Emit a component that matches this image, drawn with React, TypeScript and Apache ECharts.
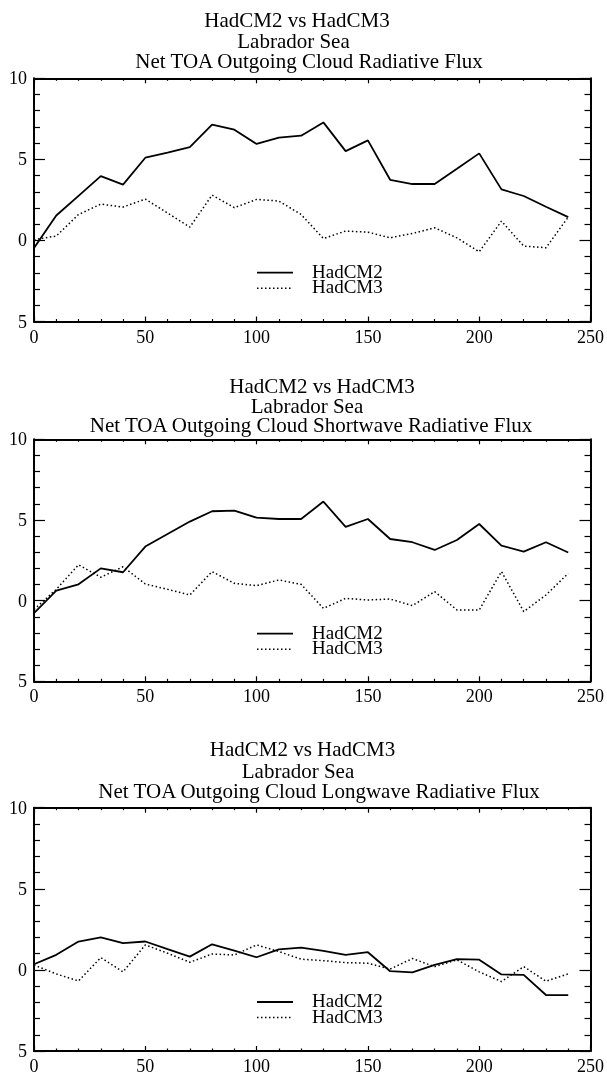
import React, { useEffect, useRef } from "react";
import * as echarts from "echarts";

// Model years (x axis)
const years = [0, 10, 20, 30, 40, 50, 60, 70, 80, 90, 100, 110, 120, 130, 140, 150, 160, 170, 180, 190, 200, 210, 220, 230, 240];

// Net TOA outgoing cloud radiative flux
const totalHadCM2 = [-0.46, 1.54, 2.75, 3.97, 3.44, 5.1, 5.41, 5.76, 7.14, 6.83, 5.95, 6.34, 6.46, 7.28, 5.51, 6.17, 3.74, 3.48, 3.48, 4.42, 5.37, 3.15, 2.74, 2.08, 1.44];
const totalHadCM3 = [0.05, 0.27, 1.6, 2.24, 2.06, 2.55, 1.69, 0.82, 2.8, 2.02, 2.53, 2.43, 1.6, 0.12, 0.58, 0.51, 0.16, 0.43, 0.78, 0.16, -0.7, 1.19, -0.35, -0.45, 1.44];

// Shortwave component
const swHadCM2 = [-0.78, 0.62, 1.01, 2.0, 1.76, 3.35, 4.13, 4.9, 5.54, 5.58, 5.14, 5.06, 5.06, 6.14, 4.57, 5.06, 3.82, 3.62, 3.14, 3.76, 4.75, 3.41, 3.04, 3.62, 2.98];
const swHadCM3 = [-0.55, 0.7, 2.22, 1.45, 2.1, 1.03, 0.7, 0.35, 1.8, 1.07, 0.93, 1.28, 1.01, -0.48, 0.14, 0.04, 0.1, -0.31, 0.56, -0.58, -0.58, 1.8, -0.68, 0.35, 1.69];

// Longwave component
const lwHadCM2 = [0.35, 0.93, 1.75, 2.0, 1.65, 1.75, 1.28, 0.82, 1.58, 1.19, 0.78, 1.27, 1.37, 1.17, 0.92, 1.09, -0.08, -0.15, 0.31, 0.66, 0.63, -0.28, -0.31, -1.55, -1.55];
const lwHadCM3 = [0.3, -0.25, -0.68, 0.76, -0.12, 1.54, 1.03, 0.47, 0.98, 0.92, 1.54, 1.13, 0.66, 0.57, 0.45, 0.41, 0.05, 0.7, 0.2, 0.62, -0.12, -0.72, 0.2, -0.7, -0.25];

const seriesNames = ["HadCM2", "HadCM3"];

const titleLines = [
  ["HadCM2 vs HadCM3", "Labrador Sea", "Net TOA Outgoing Cloud Radiative Flux"],
  ["HadCM2 vs HadCM3", "Labrador Sea", "Net TOA Outgoing Cloud Shortwave Radiative Flux"],
  ["HadCM2 vs HadCM3", "Labrador Sea", "Net TOA Outgoing Cloud Longwave Radiative Flux"],
];

const panels = [
  { a: totalHadCM2, b: totalHadCM3 },
  { a: swHadCM2, b: swHadCM3 },
  { a: lwHadCM2, b: lwHadCM3 },
];

const FONT = "Liberation Serif";

// layout of the three stacked plots
const gridTops = [78.3, 439.3, 807.7];
const gridHeights = [243.2, 242, 243.3];
const GRID_LEFT = 34;
const GRID_WIDTH = 556.6;

// title line centres [x, y] for each panel
const titlePos = [
  [[297, 19.7], [293.5, 40.7], [309, 61.3]],
  [[322, 386], [307, 406], [311, 425]],
  [[302.5, 749], [298, 771], [319, 791]],
];

const SOLID = { stroke: "#000", lineWidth: 1.8 };
const DOTTED = { stroke: "#000", lineWidth: 1.5, lineDash: [1.5, 2.5] };

function buildOption() {
  const grid: any[] = [];
  const xAxis: any[] = [];
  const yAxis: any[] = [];
  const series: any[] = [];
  const graphic: any[] = [];

  panels.forEach((p, i) => {
    grid.push({ left: GRID_LEFT, width: GRID_WIDTH, top: gridTops[i], height: gridHeights[i] });

    const axisLine = { show: true, onZero: false, lineStyle: { color: "#000", width: 2 } };
    const xCommon = {
      type: "value",
      gridIndex: i,
      min: 0,
      max: 250,
      interval: 50,
      axisLine,
      splitLine: { show: false },
      axisTick: { show: true, inside: true, length: 5, lineStyle: { color: "#000", width: 1.2 } },
      minorTick: { show: true, splitNumber: 5, length: 2.5, lineStyle: { color: "#000", width: 1.2 } },
    };
    xAxis.push({
      ...xCommon,
      position: "bottom",
      axisLabel: { show: true, color: "#000", fontFamily: FONT, fontSize: 18, margin: 6 },
    });
    xAxis.push({ ...xCommon, position: "top", axisLabel: { show: false } });

    const yCommon = {
      type: "value",
      gridIndex: i,
      min: -5,
      max: 10,
      interval: 5,
      axisLine,
      splitLine: { show: false },
      axisTick: { show: true, inside: true, length: 11, lineStyle: { color: "#000", width: 1.2 } },
      minorTick: { show: true, splitNumber: 5, length: 6, lineStyle: { color: "#000", width: 1.2 } },
    };
    yAxis.push({
      ...yCommon,
      position: "left",
      axisLabel: {
        show: true,
        color: "#000",
        fontFamily: FONT,
        fontSize: 18,
        margin: 7,
        formatter: (v: number) => String(Math.abs(v)),
      },
    });
    yAxis.push({ ...yCommon, position: "right", axisLabel: { show: false } });

    series.push({
      name: seriesNames[0],
      type: "line",
      xAxisIndex: i * 2,
      yAxisIndex: i * 2,
      data: years.map((x, k) => [x, p.a[k]]),
      symbol: "none",
      lineStyle: { color: "#000", width: 1.8, type: "solid" },
    });
    series.push({
      name: seriesNames[1],
      type: "line",
      xAxisIndex: i * 2,
      yAxisIndex: i * 2,
      data: years.map((x, k) => [x, p.b[k]]),
      symbol: "none",
      lineStyle: { color: "#000", width: 1.5, type: [1.5, 2.5] },
    });

    // key: line sample plus series name, two rows
    const keyTop = gridTops[i] + 194.3;
    seriesNames.forEach((name, j) => {
      const y = keyTop + j * 15.6;
      graphic.push({
        type: "line",
        shape: { x1: 257, y1: y, x2: 293, y2: y },
        style: j === 0 ? SOLID : DOTTED,
      });
      graphic.push({
        type: "text",
        x: 312,
        y: y - 1.5,
        style: {
          text: name,
          fill: "#000",
          fontFamily: FONT,
          fontSize: 19,
          textAlign: "left",
          textVerticalAlign: "middle",
        },
      });
    });

    titleLines[i].forEach((line, j) => {
      graphic.push({
        type: "text",
        x: titlePos[i][j][0],
        y: titlePos[i][j][1],
        style: {
          text: line,
          fill: "#000",
          fontFamily: FONT,
          fontSize: 21,
          textAlign: "center",
          textVerticalAlign: "middle",
        },
      });
    });
  });

  return {
    animation: false,
    grid,
    xAxis,
    yAxis,
    series,
    graphic,
  };
}

export default function App() {
  const ref = useRef<HTMLDivElement>(null);
  useEffect(() => {
    if (!ref.current) return;
    const chart = echarts.init(ref.current, undefined, { renderer: "svg" });
    chart.setOption(buildOption() as any);
    return () => chart.dispose();
  }, []);
  return <div ref={ref} style={{ position: "fixed", left: 0, top: 0, width: 607, height: 1076 }} />;
}
